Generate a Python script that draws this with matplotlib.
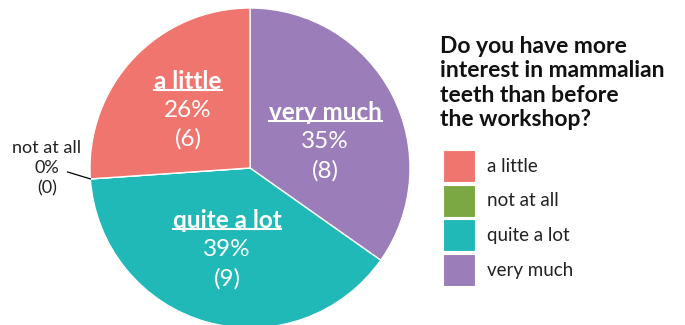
import numpy as np
import matplotlib
matplotlib.use("Agg")
import matplotlib.pyplot as plt
from matplotlib.patches import Rectangle
from matplotlib.lines import Line2D

plt.rcParams["font.family"] = ["Lato", "DejaVu Sans"]

# data (pie order, clockwise from top)
pie_labels = ["very much", "quite a lot", "not at all", "a little"]
pie_counts = [8, 9, 0, 6]
pie_colors = ["#9A7DB9", "#20B9B8", "#7CA843", "#F0756F"]

# legend order
legend_labels = ["a little", "not at all", "quite a lot", "very much"]
legend_title = "Do you have more\ninterest in mammalian\nteeth than before\nthe workshop?"

W, H = 685, 325
fig = plt.figure(figsize=(W / 100, H / 100), dpi=100)

# pie axes: centre (250, 168) px, radius 160 px
cx, cy, r = 250, 168, 160
ax = fig.add_axes([(cx - r) / W, (H - cy - r) / H, 2 * r / W, 2 * r / H])
wedges, _ = ax.pie(pie_counts, colors=pie_colors, startangle=90, counterclock=False,
                   radius=1.0, wedgeprops=dict(edgecolor="white", linewidth=1))
ax.set_xlim(-1, 1)
ax.set_ylim(-1, 1)
ax.set_aspect("equal")
ax.axis("off")

total = sum(pie_counts)
headers = []
for w, lab, n in zip(wedges, pie_labels, pie_counts):
    pct = round(100 * n / total)
    mid = np.deg2rad((w.theta1 + w.theta2) / 2)
    if n == 0:
        # outside label with leader line
        x0, y0 = np.cos(mid), np.sin(mid)
        ax.plot([x0, -1.14], [y0, -0.025], color="black", lw=0.9, clip_on=False)
        ax.text(-1.27, 0.0, f"{lab}\n{pct}%\n({n})", ha="center", va="center",
                fontsize=13, linespacing=1.3, color="#222222")
        continue
    rad = 0.53
    x, y = rad * np.cos(mid), rad * np.sin(mid)
    if lab == "very much":
        y -= 0.08
    t = ax.text(x, y + 0.18, lab, ha="center", va="center", fontsize=17.5,
                fontweight="bold", color="white")
    headers.append(t)
    ax.text(x, y, f"{pct}%", ha="center", va="center", fontsize=17.5, color="white")
    ax.text(x, y - 0.18, f"({n})", ha="center", va="center", fontsize=17.5, color="white")

# legend
fig.text(440 / W, 1 - 36 / H, legend_title, ha="left", va="top", fontsize=16.5,
         fontweight="bold", color="#111111", linespacing=1.2)
for i, lab in enumerate(legend_labels):
    col = pie_colors[pie_labels.index(lab)]
    top = 150 + i * 34.7
    fig.patches.append(Rectangle((443 / W, 1 - (top + 32) / H), 32 / W, 32 / H,
                                 transform=fig.transFigure, facecolor=col,
                                 edgecolor="white", lw=0.8))
    fig.text(487 / W, 1 - (top + 16) / H, lab, ha="left", va="center",
             fontsize=13.5, color="#222222")

# underline the bold slice labels
fig.canvas.draw()
renderer = fig.canvas.get_renderer()
for t in headers:
    bb = t.get_window_extent(renderer)
    yline = (bb.y0 + 3) / H
    fig.lines.append(Line2D([bb.x0 / W, bb.x1 / W], [yline, yline],
                            transform=fig.transFigure, color="white", lw=1.5))

fig.savefig("out.png", dpi=100)
